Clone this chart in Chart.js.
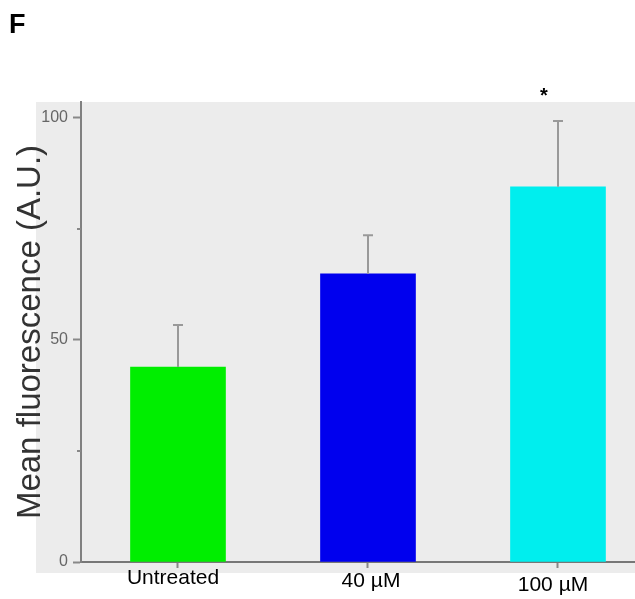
<!DOCTYPE html>
<html>
<head>
<meta charset="utf-8">
<style>
  body { margin: 0; background: #fff; }
  #chart { display: block; }
</style>
<script src="https://cdn.jsdelivr.net/npm/chart.js@4.4.0/dist/chart.umd.min.js"></script>
</head>
<body>
<canvas id="chart" width="635" height="599"></canvas>
<script>
// data
const categories = ['Untreated', '40 µM', '100 µM'];
const meanValues = [43.9, 64.9, 84.5];
const errorTops = [53.4, 73.6, 99.3];
const barColors = ['#00ee00', '#0000ee', '#00eeee'];
const yTickValues = [0, 25, 50, 75, 100];
const yTickLabels = ['0', '', '50', '', '100'];
const significance = ['', '', '*'];

const FONT = '"Liberation Sans", Arial, sans-serif';

// grey panel, error bars, minor ticks, category labels, panel letter
const decorations = {
  id: 'decorations',
  beforeDraw(chart) {
    const ctx = chart.ctx;
    const area = chart.chartArea;
    ctx.save();
    ctx.fillStyle = '#ececec';
    ctx.fillRect(36, area.top, chart.width - 36, area.bottom + 11 - area.top);
    ctx.restore();
  },
  afterDraw(chart) {
    const ctx = chart.ctx;
    const x = chart.scales.x;
    const y = chart.scales.y;
    ctx.save();

    // error bars
    ctx.strokeStyle = '#999';
    ctx.lineWidth = 2;
    errorTops.forEach((top, i) => {
      const px = Math.round(x.getPixelForValue(i));
      const y0 = y.getPixelForValue(meanValues[i]);
      const y1 = y.getPixelForValue(top);
      ctx.beginPath();
      ctx.moveTo(px, y0);
      ctx.lineTo(px, y1);
      ctx.moveTo(px - 5, y1);
      ctx.lineTo(px + 5, y1);
      ctx.stroke();
    });

    // minor ticks on y
    ctx.strokeStyle = '#888';
    [25, 75].forEach(v => {
      const py = Math.round(y.getPixelForValue(v));
      ctx.beginPath();
      ctx.moveTo(chart.chartArea.left - 4, py);
      ctx.lineTo(chart.chartArea.left, py);
      ctx.stroke();
    });

    // category labels (slightly staggered as in the figure)
    const dx = [-5, 3, -5];
    const dy = [22, 25, 29];
    ctx.fillStyle = '#000';
    ctx.font = '21px ' + FONT;
    ctx.textAlign = 'center';
    ctx.textBaseline = 'alphabetic';
    categories.forEach((c, i) => {
      ctx.fillText(c, x.getPixelForValue(i) + dx[i], chart.chartArea.bottom + dy[i]);
    });

    // significance marks
    ctx.font = 'bold 20px ' + FONT;
    significance.forEach((s, i) => {
      if (s) ctx.fillText(s, x.getPixelForValue(i) - 14, 102);
    });

    // panel letter
    ctx.textAlign = 'left';
    ctx.font = 'bold 27px ' + FONT;
    ctx.fillText('F', 9, 33);
    ctx.restore();
  }
};

new Chart(document.getElementById('chart').getContext('2d'), {
  type: 'bar',
  data: {
    datasets: [{
      data: meanValues.map((v, i) => ({ x: i, y: v })),
      backgroundColor: barColors,
      borderWidth: 0,
      barThickness: 95
    }]
  },
  options: {
    responsive: false,
    animation: false,
    layout: { padding: { top: 102, right: 0, bottom: 0, left: 0 } },
    plugins: {
      legend: { display: false },
      tooltip: { enabled: false }
    },
    scales: {
      x: {
        type: 'linear',
        offset: false,
        min: -0.5105,
        max: 2.4053,
        afterBuildTicks: s => { s.ticks = categories.map((c, i) => ({ value: i })); },
        afterFit: s => { s.height = 37; },
        ticks: { display: false },
        grid: {
          offset: false,
          drawOnChartArea: false,
          tickLength: 6,
          tickColor: '#888',
          tickWidth: 2
        },
        border: { color: '#777', width: 2 }
      },
      y: {
        min: 0,
        max: 103.6,
        afterBuildTicks: s => { s.ticks = yTickValues.map(v => ({ value: v })); },
        afterFit: s => { s.width = 81; },
        ticks: {
          padding: 5,
          color: '#666',
          font: { family: FONT, size: 16 },
          callback: (v) => yTickLabels[yTickValues.indexOf(v)]
        },
        grid: {
          drawOnChartArea: false,
          tickLength: 8,
          tickWidth: 2,
          tickColor: c => (c.tick && c.tick.value % 50 === 0) ? '#888' : 'rgba(0,0,0,0)'
        },
        border: { color: '#808080', width: 2 },
        title: {
          display: true,
          text: 'Mean fluorescence (A.U.)',
          color: '#333',
          font: { family: FONT, size: 33, weight: 'normal' },
          padding: { top: 11, bottom: 0 }
        }
      }
    }
  },
  plugins: [decorations]
});
</script>
</body>
</html>
